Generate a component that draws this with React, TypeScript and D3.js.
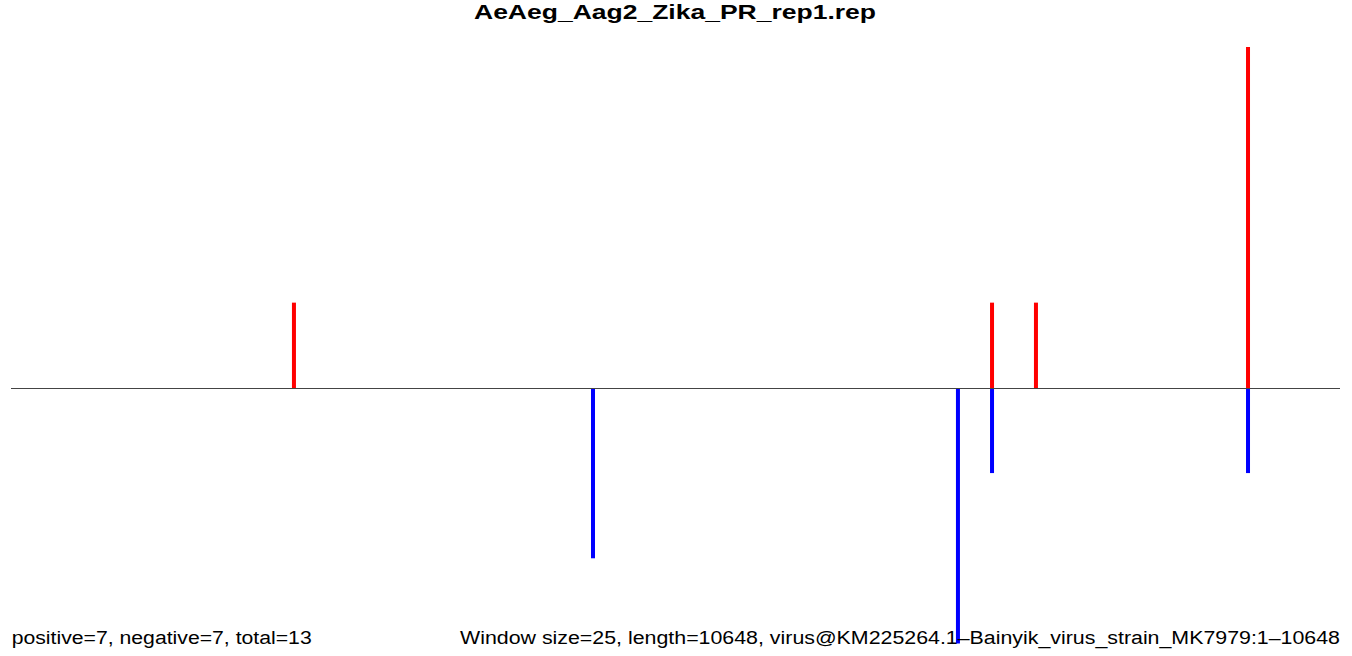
import React from "react";
import * as d3 from "d3";

const title = "AeAeg_Aag2_Zika_PR_rep1.rep";
const genomeLength = 10648;
const positivePositions = [2267, 7860, 8212, 9911];
const positiveCounts = [1, 1, 1, 4];
const negativePositions = [4663, 7587, 7860, 9911];
const negativeCounts = [2, 3, 1, 1];
const leftLabel = "positive=7, negative=7, total=13";
const rightLabel =
  "Window size=25, length=10648, virus@KM225264.1\u2013Bainyik_virus_strain_MK7979:1\u201310648";

const W = 1352;
const H = 656;

export default function App() {
  const x = d3.scaleLinear().domain([0, genomeLength]).range([11, 1340]);
  const y = d3.scaleLinear().domain([-3, 4]).range([643.5, 47]);
  const pos = positivePositions.map((p, i) => ({ p, v: positiveCounts[i] }));
  const neg = negativePositions.map((p, i) => ({ p, v: -negativeCounts[i] }));
  const font = "'Liberation Sans', Arial, Helvetica, sans-serif";
  const base = Math.round(y(0)) + 0.5;
  return (
    <svg
      width={W}
      height={H}
      style={{ position: "absolute", left: 0, top: 0, display: "block", background: "#fff" }}
    >
      <text
        x={474}
        y={18.5}
        fontFamily={font}
        fontWeight="bold"
        fontSize={21}
        textLength={402}
        lengthAdjust="spacingAndGlyphs"
        fill="#000"
      >
        {title}
      </text>
      {pos.map((d, i) => (
        <rect
          key={"p" + i}
          x={x(d.p) - 2}
          width={4}
          y={y(d.v)}
          height={base - y(d.v)}
          fill="#ff0000"
        />
      ))}
      {neg.map((d, i) => (
        <rect
          key={"n" + i}
          x={x(d.p) - 2}
          width={4}
          y={base}
          height={y(d.v) - base}
          fill="#0000ff"
        />
      ))}
      <line x1={x(0)} x2={x(genomeLength)} y1={base} y2={base} stroke="#444" strokeWidth={1} />
      <text
        x={11.7}
        y={644}
        fontFamily={font}
        fontSize={18}
        textLength={300}
        lengthAdjust="spacingAndGlyphs"
        fill="#000"
      >
        {leftLabel}
      </text>
      <text
        x={460}
        y={644}
        fontFamily={font}
        fontSize={18}
        textLength={880}
        lengthAdjust="spacingAndGlyphs"
        fill="#000"
      >
        {rightLabel}
      </text>
    </svg>
  );
}
